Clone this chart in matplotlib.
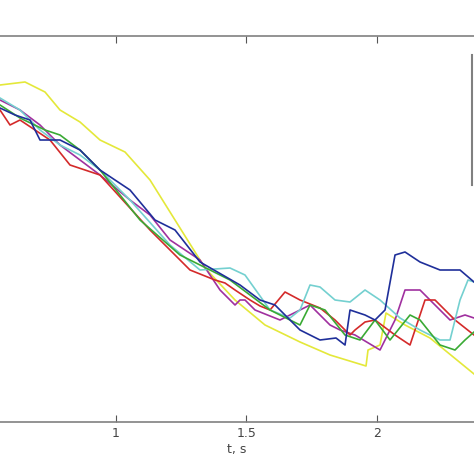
import matplotlib
matplotlib.use("Agg")
import matplotlib.pyplot as plt
import numpy as np

# x given as image columns, y as image rows; converted to t [s] and height
def T(px): return 0.556 + np.array(px) / 261.0
def H(py): return 422 - np.array(py)

yellow_px = [0,25,45,60,80,100,125,150,180,205,235,265,300,330,366,368,380,386,405,430,474]
yellow_y  = [85,82,92,110,122,140,152,180,228,268,300,325,342,355,366,350,345,313,325,338,374]
blue_px = [0,15,30,40,60,80,100,115,130,155,175,200,240,260,275,300,320,336,345,350,365,375,385,395,405,420,440,460,474]
blue_y  = [108,115,120,140,140,150,170,180,190,220,230,262,285,300,305,330,340,338,345,310,315,320,310,255,252,262,270,270,282]
green_px = [0,20,45,60,80,100,140,180,210,230,270,290,300,310,325,345,360,375,390,410,420,440,455,465,474]
green_y  = [105,118,130,135,150,170,220,255,270,280,310,320,325,305,310,335,340,320,340,315,320,345,350,340,332]
cyan_px = [0,20,40,60,80,100,130,170,200,230,245,270,290,300,310,320,335,350,365,380,400,420,440,450,460,468,474]
cyan_y  = [98,110,130,145,155,170,200,245,270,268,275,310,318,310,285,287,300,302,290,300,318,330,340,340,300,280,282]
red_px = [0,10,20,35,50,70,100,150,190,215,225,235,250,260,270,285,300,320,335,350,355,365,375,395,410,425,435,455,474]
red_y  = [110,125,120,130,140,165,175,230,270,280,283,290,300,306,310,292,300,308,320,335,330,322,320,335,345,300,300,320,335]
mag_px = [0,20,40,60,80,100,130,150,170,200,220,235,240,245,255,280,300,310,330,340,355,380,395,405,420,450,465,474]
mag_y  = [100,110,125,145,160,175,200,215,240,260,290,305,300,300,310,320,310,305,325,330,335,350,320,290,290,320,315,318]

series = [
    (blue_px, blue_y, "#1f2f9a"),
    (green_px, green_y, "#3aaa35"),
    (cyan_px, cyan_y, "#74d0d0"),
    (red_px, red_y, "#d42a2a"),
    (mag_px, mag_y, "#a0309f"),
    (yellow_px, yellow_y, "#e4e83a"),
]

fig = plt.figure(figsize=(4.74, 4.74), dpi=100)
ax = fig.add_axes([0, 52/474, 1, 386/474])
for px, py, c in series[::-1]:
    ax.plot(T(px), H(py), color=c, lw=1.2)

ax.set_xlim(0.556, 2.372)
ax.set_ylim(0, 386)
for s in ["left", "right"]:
    ax.spines[s].set_visible(False)
for s in ["top", "bottom"]:
    ax.spines[s].set_color("#808080")
    ax.spines[s].set_linewidth(1.2)
ax.set_xticks([1, 1.5, 2])
ax.set_xticklabels(["1", "1.5", "2"])
ax.tick_params(axis="x", direction="in", top=True, color="#555555", labelcolor="#444444", labelsize=9, length=5)
ax.set_yticks([])
ax.set_xlabel("t, s", color="#444444", fontsize=9, labelpad=2)
fig.add_artist(plt.Line2D([472/474, 472/474], [1-185/474, 1-55/474], color="#808080", lw=1.5))
fig.savefig("out.png", dpi=100)
